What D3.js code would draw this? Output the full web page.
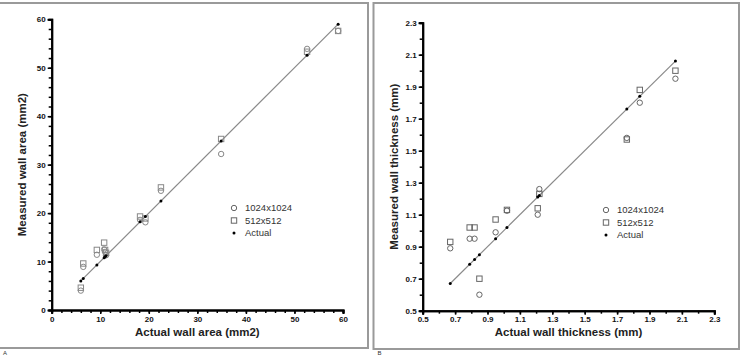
<!DOCTYPE html>
<html>
<head>
<meta charset="utf-8">
<script src="https://cdn.jsdelivr.net/npm/d3@7"></script>
<style>
  body { margin: 0; background: #fff; }
  svg { display: block; font-family: "Liberation Sans", Arial, sans-serif; }
</style>
</head>
<body>
<svg id="chart" width="742" height="356"></svg>
<script>
// panel A: wall area (mm2)
var areaActual = [6.0, 6.5, 9.3, 10.8, 11.0, 11.2, 18.2, 19.3, 22.5, 34.9, 52.6, 59.0];
var area1024   = [4.0, 8.9, 11.4, 12.5, 12.0, 11.3, 18.6, 18.1, 24.6, 32.2, 53.9, 57.6];
var area512    = [4.6, 9.6, 12.4, 13.9, 12.4, 11.8, 19.3, 18.9, 25.3, 35.3, 53.3, 57.6];
var areaTicks  = [0, 10, 20, 30, 40, 50, 60];

// panel B: wall thickness (mm)
var thickActual = [0.67, 0.79, 0.82, 0.85, 0.95, 1.02, 1.21, 1.22, 1.76, 1.84, 2.06];
var thick1024   = [0.89, 0.95, 0.95, 0.60, 0.99, 1.125, 1.10, 1.26, 1.58, 1.80, 1.95];
var thick512    = [0.93, 1.02, 1.02, 0.70, 1.07, 1.13, 1.14, 1.23, 1.57, 1.88, 2.00];
var thickTicks  = [0.5, 0.7, 0.9, 1.1, 1.3, 1.5, 1.7, 1.9, 2.1, 2.3];

var seriesNames = ['1024x1024', '512x512', 'Actual'];

var svg = d3.select('#chart');

function drawPanel(opt) {
    var g = svg.append('g');

    // panel frame
    g.append('rect')
        .attr('x', opt.frame[0]).attr('y', opt.frame[1])
        .attr('width', opt.frame[2]).attr('height', opt.frame[3])
        .attr('fill', 'none')
        .attr('stroke', '#9a9a9a')
        .attr('stroke-width', 2);

    g.append('text')
        .attr('x', opt.frame[0] + 4)
        .attr('y', 355)
        .attr('font-size', '6px')
        .attr('fill', '#333')
        .text(opt.letter);

    var xScale = d3.scaleLinear().domain(opt.domain).range([opt.left, opt.right]);
    var yScale = d3.scaleLinear().domain(opt.domain).range([opt.bottom, opt.top]);

    // minor ticks
    var xMinor = g.append('g')
        .attr('transform', 'translate(0,' + opt.bottom + ')')
        .call(d3.axisBottom(xScale).tickValues(opt.minor).tickSize(3).tickFormat(''));
    var yMinor = g.append('g')
        .attr('transform', 'translate(' + opt.left + ',0)')
        .call(d3.axisLeft(yScale).tickValues(opt.minor).tickSize(3).tickFormat(''));

    var xAxis = g.append('g')
        .attr('class', 'x-axis')
        .attr('transform', 'translate(0,' + opt.bottom + ')')
        .call(d3.axisBottom(xScale).tickValues(opt.ticks).tickSize(4).tickPadding(2).tickFormat(opt.fmt));
    var yAxis = g.append('g')
        .attr('class', 'y-axis')
        .attr('transform', 'translate(' + opt.left + ',0)')
        .call(d3.axisLeft(yScale).tickValues(opt.ticks).tickSize(4).tickPadding(2).tickFormat(opt.fmt));

    [xMinor, yMinor, xAxis, yAxis].forEach(function(a) {
        a.selectAll('path').attr('stroke', '#000').attr('stroke-width', 2);
        a.selectAll('line').attr('stroke', '#000').attr('stroke-width', 1.5);
        a.selectAll('text')
            .attr('font-size', '8px')
            .attr('font-weight', 'bold')
            .attr('font-family', '"Liberation Sans", Arial, sans-serif')
            .attr('fill', '#111');
    });

    // identity line over the actual range
    var ext = d3.extent(opt.actual);
    g.append('line')
        .attr('x1', xScale(ext[0])).attr('y1', yScale(ext[0]))
        .attr('x2', xScale(ext[1])).attr('y2', yScale(ext[1]))
        .attr('stroke', '#8a8a8a')
        .attr('stroke-width', 1.2);

    g.append('g').selectAll('circle')
        .data(opt.actual.map((d, i) => ({ x: d, y: opt.hi[i] })))
        .enter()
        .append('circle')
        .attr('cx', d => xScale(d.x))
        .attr('cy', d => yScale(d.y))
        .attr('r', 2.7)
        .attr('fill', 'none')
        .attr('stroke', opt.markColor)
        .attr('stroke-width', 1);

    g.append('g').selectAll('rect')
        .data(opt.actual.map((d, i) => ({ x: d, y: opt.lo[i] })))
        .enter()
        .append('rect')
        .attr('x', d => xScale(d.x) - 2.7)
        .attr('y', d => yScale(d.y) - 2.7)
        .attr('width', 5.4)
        .attr('height', 5.4)
        .attr('fill', 'none')
        .attr('stroke', opt.markColor)
        .attr('stroke-width', 1);

    g.append('g').selectAll('circle')
        .data(opt.actual)
        .enter()
        .append('circle')
        .attr('cx', d => xScale(d))
        .attr('cy', d => yScale(d))
        .attr('r', 1.5)
        .attr('fill', '#000');

    // legend
    var lg = g.append('g').attr('transform', 'translate(' + opt.legend[0] + ',' + opt.legend[1] + ')');
    seriesNames.forEach(function(name, i) {
        var row = lg.append('g').attr('transform', 'translate(0,' + (i * 12.5) + ')');
        if (i == 0) {
            row.append('circle').attr('r', 2.7).attr('fill', 'none').attr('stroke', '#666');
        } else if (i == 1) {
            row.append('rect').attr('x', -2.7).attr('y', -2.7).attr('width', 5.4).attr('height', 5.4)
                .attr('fill', 'none').attr('stroke', '#666');
        } else {
            row.append('circle').attr('r', 1.5).attr('fill', '#000');
        }
        row.append('text')
            .attr('x', 11)
            .attr('y', 3.3)
            .attr('font-size', '9.5px')
            .attr('fill', '#333')
            .text(name);
    });

    g.append('text')
        .attr('x', (opt.left + opt.right) / 2)
        .attr('y', 336)
        .attr('font-size', '11.5px')
        .attr('font-weight', 'bold')
        .attr('text-anchor', 'middle')
        .attr('fill', '#222')
        .text(opt.xTitle);

    g.append('text')
        .attr('transform', 'translate(' + opt.yTitleX + ',' + (opt.top + opt.bottom) / 2 + ') rotate(-90)')
        .attr('font-size', '11.5px')
        .attr('font-weight', 'bold')
        .attr('text-anchor', 'middle')
        .attr('fill', '#222')
        .text(opt.yTitle);
}

drawPanel({
    letter: 'A',
    frame: [-1, 3, 369, 345],
    domain: [0, 60],
    left: 51.7, right: 343, top: 19.3, bottom: 310,
    ticks: areaTicks,
    minor: d3.range(0, 61, 2),
    fmt: d3.format('d'),
    actual: areaActual, hi: area1024, lo: area512,
    markColor: '#888',
    legend: [234, 208],
    xTitle: 'Actual wall area (mm2)',
    yTitle: 'Measured wall area (mm2)',
    yTitleX: 26
});

drawPanel({
    letter: 'B',
    frame: [373.5, 3, 365.5, 346],
    domain: [0.5, 2.3],
    left: 422.7, right: 714.3, top: 22.7, bottom: 310.7,
    ticks: thickTicks,
    minor: d3.range(5, 24).map(d => d / 10),
    fmt: d3.format('.1f'),
    actual: thickActual, hi: thick1024, lo: thick512,
    markColor: '#666',
    legend: [606, 210],
    xTitle: 'Actual wall thickness (mm)',
    yTitle: 'Measured wall thickness (mm)',
    yTitleX: 398
});
</script>
</body>
</html>
